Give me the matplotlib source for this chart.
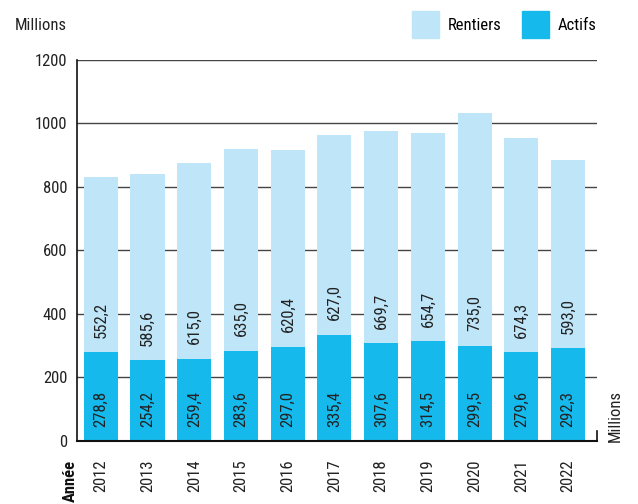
import numpy as np
import matplotlib
matplotlib.use('Agg')
import matplotlib.pyplot as plt
from matplotlib.patches import Patch

plt.rcParams['font.family'] = ['Roboto Condensed', 'Liberation Sans', 'DejaVu Sans']

# données (millions)
annees = ['2012', '2013', '2014', '2015', '2016', '2017', '2018', '2019', '2020', '2021', '2022']
actifs = [278.8, 254.2, 259.4, 283.6, 297.0, 335.4, 307.6, 314.5, 299.5, 279.6, 292.3]
rentiers = [552.2, 585.6, 615.0, 635.0, 620.4, 627.0, 669.7, 654.7, 735.0, 674.3, 593.0]

col_actifs = '#15b9eb'
col_rentiers = '#bee5f8'
fs = 12

fig = plt.figure(figsize=(6.38, 5.04), dpi=100)
ax = fig.add_axes([0.1207, 0.125, 0.815, 0.756])

x = np.arange(len(annees))
w = 0.73
ax.bar(x, actifs, w, color=col_actifs, zorder=2)
ax.bar(x, rentiers, w, bottom=actifs, color=col_rentiers, zorder=2)

def fmt(v):
    return f'{v:.1f}'.replace('.', ',')

# étiquettes dans les barres
for i in range(len(annees)):
    ax.annotate(fmt(actifs[i]), (x[i], 0), xytext=(0, 10), textcoords='offset points',
                rotation=90, ha='center', va='bottom', fontsize=fs, color='#222222', zorder=3)
    ax.annotate(fmt(rentiers[i]), (x[i], actifs[i]), xytext=(0, 10.5), textcoords='offset points',
                rotation=90, ha='center', va='bottom', fontsize=fs, color='#222222', zorder=3)

ax.set_ylim(0, 1200)
ax.set_xlim(-0.51, 10.62)
ax.set_yticks(range(0, 1201, 200))
ax.set_xticks(x)
ax.set_xticklabels(annees, rotation=90, fontsize=fs, color='#222222')
ax.tick_params(axis='y', length=0, pad=7, labelsize=fs, labelcolor='#222222')
ax.tick_params(axis='x', length=0, pad=13)
ax.yaxis.grid(True, color='#444444', linewidth=1, zorder=0)
ax.set_axisbelow(True)

for s in ['top', 'right']:
    ax.spines[s].set_visible(False)
ax.spines['left'].set_linewidth(1.2)
ax.spines['bottom'].set_linewidth(1.5)
ax.spines['left'].set_color('#111111')
ax.spines['bottom'].set_color('#111111')
# petit trait au bout de l'axe
ax.plot([1, 1], [0, 0.025], transform=ax.transAxes, color='#111111', lw=1.2, clip_on=False)

fig.text(15 / 638, 1 - 25 / 504, 'Millions', fontsize=fs, color='#222222', va='center', ha='left')
fig.text(615 / 638, 1 - 442 / 504, 'Millions', fontsize=fs, color='#222222', rotation=90,
         ha='center', va='bottom')
fig.text(70 / 638, 1 - 460 / 504, 'Année', fontsize=fs, fontweight='bold', color='#111111',
         rotation=90, ha='center', va='top')

handles = [Patch(color=col_rentiers, label='Rentiers'), Patch(color=col_actifs, label='Actifs')]
fig.legend(handles=handles, loc='upper right', bbox_to_anchor=(597 / 638, 1 - 11 / 504), ncol=2,
           frameon=False, fontsize=fs, handlelength=1.6, handleheight=2.1, handletextpad=0.55,
           columnspacing=1.25, borderaxespad=0, borderpad=0)

fig.savefig('out.png', dpi=100)
